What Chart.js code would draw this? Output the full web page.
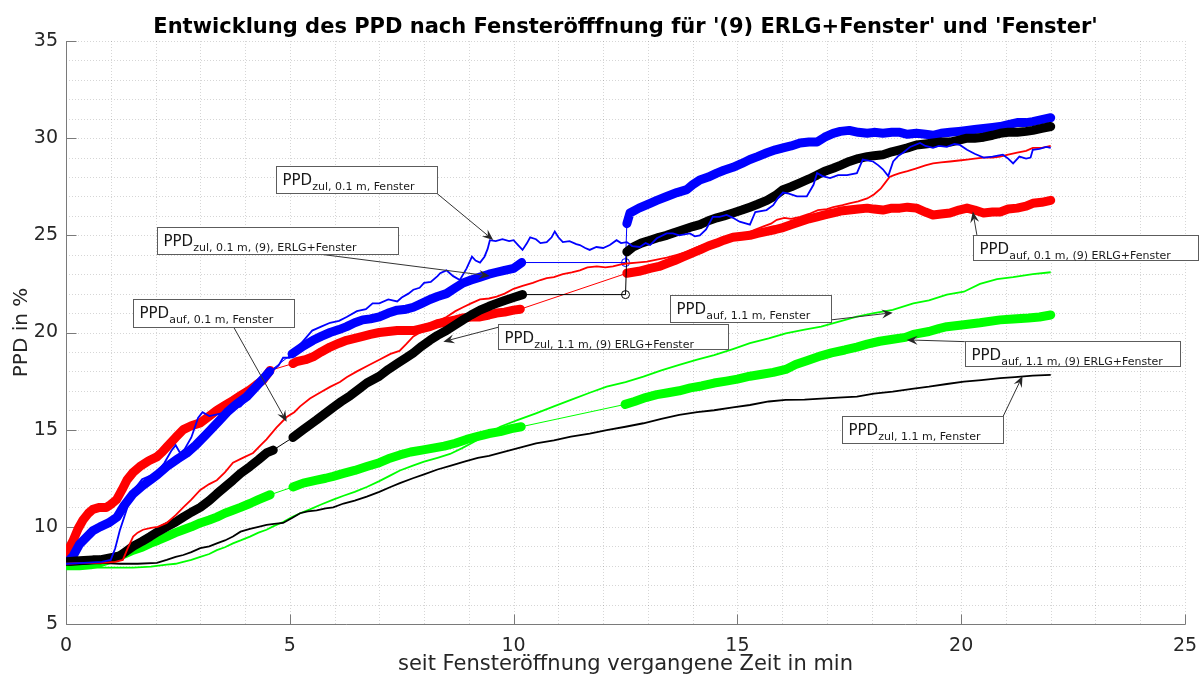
<!DOCTYPE html>
<html>
<head>
<meta charset="utf-8">
<title>PPD nach Fensteröffnung</title>
<script src="https://cdn.jsdelivr.net/npm/chart.js@4.4.1/dist/chart.umd.min.js"></script>
<style>
  html, body { margin: 0; padding: 0; background: #fff; }
  #wrap { width: 1201px; height: 675px; }
</style>
</head>
<body>
<div id="wrap"><canvas id="ppdChart" width="1201" height="675"></canvas></div>
<script>
const chartTitle = "Entwicklung des PPD nach Fensteröfffnung für '(9) ERLG+Fenster' und 'Fenster'"
const xLabel = 'seit Fensteröffnung vergangene Zeit in min'
const yLabel = 'PPD in %'
const xTickValues = [0, 5, 10, 15, 20, 25]
const yTickValues = [5, 10, 15, 20, 25, 30, 35]

// thin lines: window only ("Fenster"), [minutes, PPD %]
const zul01Fenster = [
    [0, 8.1], [0.4, 8.15], [0.8, 8.2], [1.0, 8.3], [1.1, 8.9], [1.2, 9.8], [1.3, 10.5], [1.4, 11.2], [1.55, 12.0],
    [1.7, 12.45], [1.85, 12.6], [2.0, 12.7], [2.2, 13.3], [2.35, 13.9], [2.45, 14.2], [2.55, 13.8], [2.65, 14.0],
    [2.8, 14.6], [2.95, 15.6], [3.05, 15.9], [3.2, 15.7], [3.4, 15.8], [3.6, 15.9], [3.75, 16.1], [3.9, 16.2],
    [4.05, 16.6], [4.2, 16.9], [4.33, 17.4], [4.45, 17.7], [4.6, 18.0], [4.75, 18.3], [4.85, 18.7], [5.0, 18.7],
    [5.2, 19.3], [5.35, 19.7], [5.5, 20.1], [5.7, 20.3], [5.9, 20.5], [6.1, 20.6], [6.27, 20.8], [6.5, 21.1],
    [6.7, 21.2], [6.85, 21.5], [7.0, 21.5], [7.2, 21.7], [7.4, 21.6], [7.5, 21.8], [7.65, 22.0], [7.76, 22.2],
    [7.9, 22.3], [8.0, 22.55], [8.15, 22.6], [8.3, 22.9], [8.36, 23.05], [8.5, 23.2], [8.65, 22.9], [8.8, 22.7],
    [8.95, 23.3], [9.07, 23.9], [9.15, 23.7], [9.25, 23.6], [9.35, 23.9], [9.42, 24.3], [9.47, 24.75], [9.6, 24.7],
    [9.75, 24.8], [9.9, 24.7], [10.0, 24.75], [10.1, 24.5], [10.2, 24.25], [10.3, 24.6], [10.37, 24.9], [10.5, 24.8],
    [10.6, 24.6], [10.74, 24.65], [10.85, 24.9], [10.92, 25.2], [11.0, 24.9], [11.1, 24.65], [11.25, 24.7],
    [11.4, 24.55], [11.48, 24.5], [11.6, 24.35], [11.7, 24.25], [11.85, 24.4], [12.0, 24.35], [12.15, 24.5],
    [12.3, 24.75], [12.4, 24.6], [12.53, 24.65], [12.65, 24.45], [12.82, 24.4], [12.95, 24.6], [13.05, 24.5],
    [13.2, 24.85], [13.42, 25.1], [13.56, 25.1], [13.7, 25.0], [13.94, 25.1], [14.05, 24.95], [14.16, 25.0],
    [14.3, 25.3], [14.45, 25.95], [14.6, 25.95], [14.76, 26.05], [14.9, 25.9], [15.05, 25.7], [15.28, 25.55],
    [15.4, 26.2], [15.65, 26.3], [15.8, 26.55], [15.9, 26.9], [16.02, 27.2], [16.15, 27.15], [16.33, 27.0],
    [16.55, 27.0], [16.7, 27.6], [16.78, 28.2], [16.9, 28.05], [17.07, 27.95], [17.25, 28.1], [17.45, 28.1],
    [17.67, 28.2], [17.8, 28.9], [18.03, 28.8], [18.15, 28.6], [18.25, 28.4], [18.37, 28.05], [18.48, 28.8],
    [18.6, 29.1], [18.7, 29.25], [18.86, 29.55], [19.08, 29.75], [19.2, 29.6], [19.37, 29.5], [19.5, 29.6],
    [19.68, 29.55], [19.85, 29.7], [19.97, 29.65], [20.13, 29.4], [20.3, 29.2], [20.5, 29.0], [20.7, 29.05],
    [20.93, 29.15], [21.05, 28.95], [21.16, 28.7], [21.3, 29.05], [21.45, 28.95], [21.55, 29.0], [21.6, 29.4],
    [21.75, 29.45], [21.9, 29.55], [22.0, 29.5]
]

const auf01Fenster = [
    [0, 8.1], [0.4, 8.15], [0.8, 8.15], [1.1, 8.2], [1.27, 8.3], [1.38, 8.9], [1.5, 9.5], [1.6, 9.7], [1.72, 9.85],
    [1.9, 9.95], [2.05, 10.0], [2.25, 10.2], [2.45, 10.6], [2.62, 11.0], [2.8, 11.4], [3.0, 11.9], [3.2, 12.2],
    [3.37, 12.4], [3.55, 12.8], [3.73, 13.3], [3.95, 13.55], [4.18, 13.8], [4.35, 14.2], [4.48, 14.5], [4.7, 15.1],
    [4.93, 15.65], [5.1, 15.9], [5.23, 16.2], [5.45, 16.6], [5.67, 16.9], [5.9, 17.2], [6.12, 17.45], [6.27, 17.7],
    [6.5, 18.0], [6.75, 18.3], [7.0, 18.6], [7.25, 18.9], [7.45, 19.05], [7.6, 19.4], [7.76, 19.8], [7.95, 20.05],
    [8.13, 20.3], [8.36, 20.65], [8.5, 20.8], [8.7, 21.1], [8.87, 21.3], [9.05, 21.5], [9.25, 21.7], [9.45, 21.75],
    [9.62, 21.85], [9.8, 22.0], [10.0, 22.25], [10.2, 22.4], [10.43, 22.55], [10.6, 22.7], [10.74, 22.8],
    [10.9, 22.85], [11.1, 23.0], [11.3, 23.1], [11.48, 23.2], [11.65, 23.35], [11.86, 23.4], [12.05, 23.35],
    [12.22, 23.4], [12.4, 23.5], [12.53, 23.55], [12.75, 23.6], [12.98, 23.65], [13.2, 23.75], [13.42, 23.85],
    [13.65, 24.0], [13.87, 24.15], [14.1, 24.4], [14.3, 24.55], [14.45, 24.65], [14.65, 24.8], [14.83, 24.9],
    [15.0, 25.0], [15.2, 25.1], [15.4, 25.3], [15.57, 25.45], [15.75, 25.6], [15.88, 25.8], [16.05, 25.9],
    [16.2, 25.85], [16.4, 25.95], [16.6, 26.1], [16.8, 26.3], [17.0, 26.35], [17.14, 26.45], [17.35, 26.55],
    [17.5, 26.65], [17.7, 26.75], [17.9, 26.9], [18.05, 27.1], [18.2, 27.4], [18.3, 27.7], [18.4, 28.0],
    [18.5, 28.1], [18.63, 28.2], [18.8, 28.3], [19.0, 28.45], [19.2, 28.6], [19.37, 28.7], [19.55, 28.75],
    [19.75, 28.8], [19.95, 28.85], [20.13, 28.9], [20.3, 28.95], [20.5, 29.0], [20.7, 29.0], [20.87, 29.05],
    [21.05, 29.15], [21.25, 29.25], [21.45, 29.35], [21.6, 29.5], [21.8, 29.5], [22.0, 29.6]
]

const zul11Fenster = [
    [0, 8.1], [0.4, 8.1], [0.76, 8.15], [1.2, 8.1], [1.6, 8.1], [2.03, 8.15], [2.25, 8.3], [2.45, 8.45],
    [2.62, 8.55], [2.8, 8.7], [3.0, 8.9], [3.2, 9.0], [3.37, 9.15], [3.55, 9.3], [3.73, 9.5], [3.9, 9.75],
    [4.11, 9.9], [4.3, 10.0], [4.48, 10.1], [4.65, 10.15], [4.85, 10.2], [5.05, 10.45], [5.23, 10.7], [5.4, 10.8],
    [5.6, 10.85], [5.8, 10.95], [5.97, 11.0], [6.2, 11.2], [6.45, 11.35], [6.72, 11.55], [7.0, 11.8],
    [7.25, 12.05], [7.46, 12.25], [7.75, 12.5], [8.0, 12.7], [8.3, 12.95], [8.6, 13.15], [8.9, 13.35],
    [9.2, 13.55], [9.45, 13.65], [9.7, 13.8], [10.1, 14.05], [10.5, 14.3], [10.9, 14.45], [11.28, 14.64],
    [11.7, 14.8], [12.08, 14.98], [12.5, 15.15], [12.9, 15.33], [13.3, 15.55], [13.7, 15.76], [14.1, 15.9],
    [14.48, 16.0], [14.9, 16.15], [15.28, 16.27], [15.7, 16.45], [16.08, 16.53], [16.5, 16.55], [16.87, 16.6],
    [17.25, 16.65], [17.67, 16.7], [18.05, 16.85], [18.47, 16.96], [18.9, 17.1], [19.28, 17.21], [19.68, 17.35],
    [20.06, 17.47], [20.45, 17.55], [20.87, 17.65], [21.2, 17.7], [21.6, 17.78], [22.0, 17.82]
]

const auf11Fenster = [
    [0, 7.95], [0.5, 7.9], [1.0, 7.9], [1.5, 7.9], [1.9, 7.95], [2.25, 8.05], [2.45, 8.1], [2.62, 8.2], [2.8, 8.3],
    [3.0, 8.45], [3.2, 8.6], [3.37, 8.8], [3.55, 8.95], [3.73, 9.15], [3.9, 9.3], [4.11, 9.5], [4.3, 9.7],
    [4.48, 9.85], [4.65, 10.05], [4.85, 10.25], [5.05, 10.5], [5.23, 10.7], [5.45, 10.9], [5.7, 11.15],
    [5.97, 11.4], [6.2, 11.6], [6.45, 11.8], [6.72, 12.05], [7.0, 12.35], [7.25, 12.65], [7.46, 12.9],
    [7.75, 13.15], [8.0, 13.35], [8.3, 13.55], [8.58, 13.75], [8.85, 14.05], [9.1, 14.35], [9.4, 14.75],
    [9.7, 15.15], [10.1, 15.5], [10.5, 15.84], [10.9, 16.2], [11.28, 16.53], [11.7, 16.9], [12.08, 17.21],
    [12.5, 17.45], [12.9, 17.73], [13.3, 18.05], [13.7, 18.33], [14.1, 18.6], [14.48, 18.84], [14.9, 19.15],
    [15.28, 19.45], [15.7, 19.7], [16.08, 19.96], [16.5, 20.15], [16.87, 20.3], [17.25, 20.55], [17.67, 20.82],
    [18.05, 21.0], [18.47, 21.16], [18.93, 21.5], [19.28, 21.65], [19.68, 21.95], [20.06, 22.1], [20.42, 22.5],
    [20.8, 22.75], [21.16, 22.85], [21.6, 23.0], [22.0, 23.1]
]

// thick lines: ERLG + window, recorded in runs; a one-point run is a lone sample
const zul01Erlg = [
    [[0, 8.2], [0.08, 8.3], [0.16, 8.5], [0.3, 9.1], [0.47, 9.5], [0.6, 9.8], [0.76, 10.0], [0.95, 10.2],
     [1.14, 10.5], [1.3, 11.1], [1.5, 11.7], [1.7, 12.1], [1.88, 12.4], [2.05, 12.7], [2.25, 13.1], [2.5, 13.5],
     [2.7, 13.8], [2.9, 14.2], [3.15, 14.8], [3.4, 15.4], [3.6, 15.9], [3.8, 16.3], [4.04, 16.7], [4.2, 17.1],
     [4.4, 17.6], [4.55, 18.0]],
    [[5.05, 18.9], [5.3, 19.3], [5.52, 19.6], [5.7, 19.8], [5.9, 20.0], [6.1, 20.15], [6.27, 20.3], [6.45, 20.5],
     [6.63, 20.65], [6.8, 20.7], [7.0, 20.8], [7.2, 21.0], [7.4, 21.15], [7.6, 21.2], [7.76, 21.3], [7.95, 21.5],
     [8.13, 21.7], [8.3, 21.85], [8.5, 22.0], [8.7, 22.3], [8.87, 22.55], [9.05, 22.7], [9.25, 22.85], [9.45, 23.0],
     [9.62, 23.1], [9.8, 23.2], [10.0, 23.3], [10.18, 23.6]],
    [[12.5, 23.6]],
    [[12.53, 25.6], [12.6, 26.15], [12.8, 26.4], [13.05, 26.65], [13.2, 26.8], [13.42, 27.0], [13.65, 27.2],
     [13.87, 27.35], [14.0, 27.6], [14.16, 27.85], [14.35, 28.0], [14.54, 28.2], [14.7, 28.35], [14.9, 28.5],
     [15.1, 28.7], [15.28, 28.9], [15.45, 29.05], [15.66, 29.25], [15.85, 29.4], [16.02, 29.5], [16.2, 29.6],
     [16.4, 29.75], [16.6, 29.8], [16.78, 29.8], [16.95, 30.05], [17.14, 30.25], [17.3, 30.35], [17.5, 30.4],
     [17.7, 30.3], [17.9, 30.25], [18.05, 30.3], [18.25, 30.25], [18.45, 30.3], [18.63, 30.3], [18.8, 30.2],
     [19.0, 30.25], [19.2, 30.2], [19.37, 30.15], [19.55, 30.25], [19.75, 30.3], [19.95, 30.35], [20.13, 30.4],
     [20.3, 30.45], [20.5, 30.5], [20.7, 30.55], [20.87, 30.6], [21.05, 30.7], [21.25, 30.8], [21.45, 30.8],
     [21.6, 30.85], [21.8, 30.95], [22.0, 31.05]]
]

const auf01Erlg = [
    [[0, 8.3], [0.05, 8.8], [0.16, 9.3], [0.27, 9.9], [0.38, 10.35], [0.5, 10.7], [0.6, 10.9], [0.75, 11.0],
     [0.9, 11.0], [1.0, 11.15], [1.13, 11.4], [1.25, 11.9], [1.36, 12.4], [1.5, 12.8], [1.65, 13.1], [1.85, 13.4],
     [2.03, 13.6], [2.15, 13.85], [2.25, 14.1], [2.45, 14.6], [2.62, 15.0], [2.8, 15.2], [3.0, 15.35], [3.2, 15.7],
     [3.37, 16.0], [3.55, 16.25], [3.73, 16.5], [3.9, 16.75], [4.11, 17.05], [4.25, 17.3], [4.4, 17.55],
     [4.56, 18.05]],
    [[5.07, 18.4], [5.15, 18.5], [5.35, 18.6], [5.52, 18.75], [5.7, 19.0], [5.9, 19.25], [6.1, 19.45],
     [6.27, 19.6], [6.45, 19.7], [6.63, 19.8], [6.8, 19.9], [7.0, 20.0], [7.2, 20.05], [7.4, 20.1], [7.6, 20.1],
     [7.76, 20.1], [7.95, 20.2], [8.13, 20.3], [8.3, 20.45], [8.5, 20.55], [8.7, 20.65], [8.87, 20.75],
     [9.05, 20.8], [9.25, 20.8], [9.45, 20.9], [9.62, 21.0], [9.8, 21.05], [10.0, 21.15], [10.15, 21.2]],
    [[12.53, 23.05], [12.8, 23.15], [13.05, 23.3], [13.25, 23.4], [13.42, 23.55], [13.6, 23.7], [13.8, 23.9],
     [14.0, 24.1], [14.16, 24.25], [14.35, 24.45], [14.54, 24.6], [14.7, 24.75], [14.9, 24.9], [15.1, 24.95],
     [15.28, 25.0], [15.45, 25.1], [15.66, 25.2], [15.85, 25.3], [16.02, 25.4], [16.2, 25.55], [16.4, 25.7],
     [16.6, 25.85], [16.78, 25.95], [16.95, 26.05], [17.14, 26.15], [17.3, 26.25], [17.5, 26.3], [17.7, 26.35],
     [17.9, 26.4], [18.05, 26.35], [18.25, 26.3], [18.45, 26.4], [18.63, 26.4], [18.8, 26.45], [19.0, 26.4],
     [19.2, 26.2], [19.37, 26.05], [19.55, 26.1], [19.75, 26.15], [19.95, 26.3], [20.13, 26.4], [20.3, 26.3],
     [20.5, 26.15], [20.7, 26.2], [20.87, 26.2], [21.05, 26.35], [21.25, 26.4], [21.45, 26.5], [21.6, 26.65],
     [21.8, 26.7], [22.0, 26.8]]
]

const zul11Erlg = [
    [[0, 8.2], [0.3, 8.25], [0.6, 8.3], [0.76, 8.3], [0.98, 8.4], [1.2, 8.5], [1.35, 8.75], [1.5, 9.0],
     [1.7, 9.25], [1.88, 9.5], [2.05, 9.75], [2.25, 10.0], [2.45, 10.25], [2.62, 10.5], [2.8, 10.75], [3.0, 11.0],
     [3.2, 11.35], [3.37, 11.7], [3.55, 12.05], [3.73, 12.4], [3.9, 12.75], [4.11, 13.1], [4.3, 13.45],
     [4.48, 13.8], [4.63, 13.95]],
    [[5.07, 14.6], [5.3, 15.0], [5.6, 15.5], [5.8, 15.85], [5.97, 16.15], [6.15, 16.45], [6.35, 16.75],
     [6.55, 17.1], [6.72, 17.4], [7.0, 17.75], [7.2, 18.1], [7.4, 18.4], [7.6, 18.7], [7.76, 18.95], [7.95, 19.3],
     [8.13, 19.6], [8.3, 19.85], [8.5, 20.1], [8.7, 20.4], [8.87, 20.65], [9.05, 20.9], [9.25, 21.15],
     [9.45, 21.35], [9.62, 21.5], [9.8, 21.65], [10.0, 21.8], [10.2, 21.95]],
    [[12.5, 21.95]],
    [[12.53, 24.15], [12.67, 24.4], [12.85, 24.6], [13.05, 24.75], [13.25, 24.9], [13.42, 25.0], [13.6, 25.15],
     [13.8, 25.3], [14.0, 25.45], [14.16, 25.55], [14.35, 25.75], [14.54, 25.9], [14.7, 26.0], [14.9, 26.15],
     [15.1, 26.3], [15.28, 26.45], [15.45, 26.6], [15.66, 26.8], [15.85, 27.05], [16.02, 27.35], [16.2, 27.5],
     [16.4, 27.7], [16.6, 27.9], [16.78, 28.1], [16.95, 28.3], [17.14, 28.45], [17.3, 28.6], [17.5, 28.8],
     [17.7, 28.95], [17.9, 29.05], [18.05, 29.1], [18.25, 29.15], [18.45, 29.3], [18.63, 29.4], [18.8, 29.5],
     [19.0, 29.65], [19.2, 29.7], [19.37, 29.75], [19.55, 29.8], [19.75, 29.8], [19.95, 29.9], [20.13, 30.0],
     [20.3, 30.0], [20.5, 30.05], [20.7, 30.15], [20.87, 30.25], [21.05, 30.3], [21.25, 30.3], [21.45, 30.35],
     [21.6, 30.4], [21.8, 30.5], [22.0, 30.6]]
]

const auf11Erlg = [
    [[0, 8.0], [0.3, 8.0], [0.55, 8.05], [0.76, 8.15], [0.95, 8.3], [1.13, 8.45], [1.3, 8.6], [1.5, 8.8],
     [1.7, 8.95], [1.88, 9.15], [2.05, 9.3], [2.25, 9.5], [2.45, 9.7], [2.62, 9.85], [2.8, 10.0], [3.0, 10.2],
     [3.2, 10.35], [3.37, 10.5], [3.55, 10.7], [3.73, 10.85], [3.9, 11.0], [4.11, 11.2], [4.3, 11.4],
     [4.56, 11.65]],
    [[5.07, 12.05], [5.3, 12.25], [5.6, 12.4], [5.8, 12.5], [5.97, 12.6], [6.2, 12.75], [6.45, 12.9],
     [6.72, 13.1], [7.0, 13.3], [7.2, 13.5], [7.46, 13.7], [7.7, 13.85], [7.95, 13.95], [8.2, 14.05],
     [8.45, 14.15], [8.7, 14.3], [8.95, 14.5], [9.2, 14.65], [9.45, 14.8], [9.7, 14.9], [9.95, 15.05],
     [10.17, 15.15]],
    [[12.49, 16.3], [12.7, 16.45], [12.95, 16.65], [13.2, 16.8], [13.45, 16.9], [13.7, 17.0], [13.95, 17.15],
     [14.2, 17.25], [14.48, 17.4], [14.75, 17.5], [15.0, 17.6], [15.28, 17.75], [15.55, 17.85], [15.8, 17.95],
     [16.08, 18.1], [16.3, 18.35], [16.55, 18.55], [16.87, 18.8], [17.1, 18.95], [17.4, 19.1], [17.67, 19.25],
     [17.9, 19.4], [18.18, 19.55], [18.47, 19.65], [18.75, 19.75], [18.93, 19.9], [19.28, 20.05], [19.5, 20.2],
     [19.68, 20.3], [20.06, 20.4], [20.42, 20.5], [20.87, 20.65], [21.16, 20.7], [21.5, 20.75], [21.75, 20.8],
     [22.0, 20.9]]
]

// text boxes with arrows, in axis units: box = [left, top, right, bottom]
const notes = [
    { sub: 'zul, 0.1 m, Fenster', box: [4.69, 28.57, 8.28, 27.17], from: [8.28, 27.17], to: [9.545, 24.76] },
    { sub: 'zul, 0.1 m, (9), ERLG+Fenster', box: [2.026, 25.445, 7.41, 24.04], from: [5.64, 24.04], to: [9.47, 22.91] },
    { sub: 'auf, 0.1 m, Fenster', box: [1.49, 21.71, 5.093, 20.3], from: [3.74, 20.3], to: [4.93, 15.41] },
    { sub: 'zul, 1.1 m, (9) ERLG+Fenster', box: [9.657, 20.44, 14.795, 19.14], from: [9.657, 20.27], to: [8.43, 19.53] },
    { sub: 'auf, 1.1 m, Fenster', box: [13.49, 21.93, 17.1, 20.53], from: [17.1, 20.65], to: [18.47, 21.02] },
    { sub: 'auf, 0.1 m, (9) ERLG+Fenster', box: [20.27, 25.02, 25.29, 23.73], from: [20.35, 25.02], to: [20.26, 26.22] },
    { sub: 'auf, 1.1 m, (9) ERLG+Fenster', box: [20.08, 19.56, 24.89, 18.29], from: [20.08, 19.53], to: [18.78, 19.62] },
    { sub: 'zul, 1.1 m, Fenster', box: [17.34, 15.7, 20.94, 14.33], from: [20.94, 15.7], to: [21.37, 17.76] }
]

const FONT = '"DejaVu Sans", "Noto Sans", sans-serif'
const THICK = 9

function thinDataset(label, color, pairs) {
    return {
        label: label,
        data: pairs.map(p => ({ x: p[0], y: p[1] })),
        borderColor: color,
        borderWidth: 1.8,
        pointRadius: 0,
        fill: false,
        tension: 0
    }
}

// consecutive samples of one run are drawn as a wide band, the jumps between runs as a hairline
function thickDataset(label, color, runs) {
    const data = []
    const runOf = []
    runs.forEach((run, i) => run.forEach(p => {
        data.push({ x: p[0], y: p[1] })
        runOf.push(i)
    }))
    return {
        label: label,
        data: data,
        borderColor: color,
        borderWidth: THICK,
        borderCapStyle: 'round',
        borderJoinStyle: 'round',
        pointRadius: ctx => runs[runOf[ctx.dataIndex]].length === 1 ? 4 : 0,
        pointBorderColor: color,
        pointBackgroundColor: 'rgba(255,255,255,0)',
        pointBorderWidth: 1,
        fill: false,
        tension: 0,
        segment: {
            borderWidth: ctx => runOf[ctx.p0DataIndex] === runOf[ctx.p1DataIndex] ? THICK : 1
        }
    }
}

function drawArrow(ctx, x0, y0, x1, y1) {
    const ang = Math.atan2(y1 - y0, x1 - x0)
    ctx.beginPath()
    ctx.moveTo(x0, y0)
    ctx.lineTo(x1 - 7 * Math.cos(ang), y1 - 7 * Math.sin(ang))
    ctx.stroke()
    ctx.save()
    ctx.translate(x1, y1)
    ctx.rotate(ang)
    ctx.beginPath()
    ctx.moveTo(0, 0)
    ctx.lineTo(-11, -4.5)
    ctx.lineTo(-7, 0)
    ctx.lineTo(-11, 4.5)
    ctx.closePath()
    ctx.fill()
    ctx.restore()
}

// background, dotted grid, axis lines and inward tick marks
const axesDecor = {
    id: 'axesDecor',
    beforeDraw(chart) {
        const ctx = chart.ctx
        ctx.save()
        ctx.fillStyle = '#ffffff'
        ctx.fillRect(0, 0, chart.width, chart.height)
        ctx.restore()
    },
    beforeDatasetsDraw(chart) {
        const { ctx, chartArea: a, scales: { x, y } } = chart
        ctx.save()
        ctx.lineWidth = 1
        ctx.strokeStyle = 'rgba(0,0,0,0.16)'
        ctx.setLineDash([1, 2])
        for (let v = x.min; v <= x.max; v++) {
            const px = Math.round(x.getPixelForValue(v)) + 0.5
            ctx.beginPath(); ctx.moveTo(px, a.top); ctx.lineTo(px, a.bottom); ctx.stroke()
        }
        for (let v = y.min; v <= y.max; v++) {
            const py = Math.round(y.getPixelForValue(v)) + 0.5
            ctx.beginPath(); ctx.moveTo(a.left, py); ctx.lineTo(a.right, py); ctx.stroke()
        }
        ctx.setLineDash([])
        ctx.strokeStyle = '#7a7a7a'
        const left = Math.round(a.left) + 0.5
        const bottom = Math.round(a.bottom) + 0.5
        ctx.beginPath()
        ctx.moveTo(left, a.top)
        ctx.lineTo(left, bottom)
        ctx.lineTo(a.right + 0.5, bottom)
        ctx.stroke()
        xTickValues.forEach(v => {
            const px = Math.round(x.getPixelForValue(v)) + 0.5
            ctx.beginPath(); ctx.moveTo(px, bottom); ctx.lineTo(px, bottom - 10); ctx.stroke()
        })
        yTickValues.forEach(v => {
            const py = Math.round(y.getPixelForValue(v)) + 0.5
            ctx.beginPath(); ctx.moveTo(left, py); ctx.lineTo(left + 10, py); ctx.stroke()
        })
        ctx.restore()
    },
    afterDraw(chart) {
        const { ctx, chartArea: a, scales: { x, y } } = chart
        ctx.save()
        // title, centred over the plot area
        ctx.fillStyle = '#000000'
        ctx.font = 'bold 21px ' + FONT
        ctx.textAlign = 'center'
        ctx.textBaseline = 'alphabetic'
        ctx.fillText(chartTitle, (a.left + a.right) / 2, 33)

        ctx.textAlign = 'left'
        notes.forEach(n => {
            const bx0 = Math.round(x.getPixelForValue(n.box[0])) + 0.5
            const by0 = Math.round(y.getPixelForValue(n.box[1])) + 0.5
            const bx1 = Math.round(x.getPixelForValue(n.box[2])) + 0.5
            const by1 = Math.round(y.getPixelForValue(n.box[3])) + 0.5
            ctx.strokeStyle = '#333333'
            ctx.fillStyle = '#262626'
            ctx.lineWidth = 1
            drawArrow(ctx, x.getPixelForValue(n.from[0]), y.getPixelForValue(n.from[1]),
                x.getPixelForValue(n.to[0]), y.getPixelForValue(n.to[1]))
            ctx.fillStyle = '#ffffff'
            ctx.fillRect(bx0, by0, bx1 - bx0, by1 - by0)
            ctx.strokeStyle = '#5c5c5c'
            ctx.strokeRect(bx0, by0, bx1 - bx0, by1 - by0)
            ctx.fillStyle = '#1a1a1a'
            ctx.font = '15px ' + FONT
            ctx.fillText('PPD', bx0 + 6, by0 + 18)
            const w = ctx.measureText('PPD').width
            ctx.font = '11px ' + FONT
            ctx.fillText(n.sub, bx0 + 6 + w, by0 + 23.5)
        })
        ctx.restore()
    }
}

const ctx = document.getElementById('ppdChart')
new Chart(ctx, {
    type: 'line',
    data: {
        datasets: [
            thinDataset('PPD zul, 0.1 m, Fenster', '#0000ff', zul01Fenster),
            thinDataset('PPD auf, 0.1 m, Fenster', '#ff0000', auf01Fenster),
            thinDataset('PPD zul, 1.1 m, Fenster', '#000000', zul11Fenster),
            thinDataset('PPD auf, 1.1 m, Fenster', '#00ff00', auf11Fenster),
            thickDataset('PPD zul, 1.1 m, (9) ERLG+Fenster', '#000000', zul11Erlg),
            thickDataset('PPD zul, 0.1 m, (9) ERLG+Fenster', '#0000ff', zul01Erlg),
            thickDataset('PPD auf, 0.1 m, (9) ERLG+Fenster', '#ff0000', auf01Erlg),
            thickDataset('PPD auf, 1.1 m, (9) ERLG+Fenster', '#00ff00', auf11Erlg)
        ]
    },
    options: {
        responsive: false,
        animation: false,
        devicePixelRatio: 1,
        layout: { padding: { left: 0, right: 16, top: 41, bottom: 0 } },
        plugins: {
            legend: { display: false },
            tooltip: { enabled: false },
            title: { display: false }
        },
        scales: {
            x: {
                type: 'linear',
                min: 0,
                max: 25,
                afterBuildTicks: scale => { scale.ticks = xTickValues.map(v => ({ value: v })) },
                afterFit: scale => {
                    scale.height = 51
                    scale.paddingLeft = 0
                    scale.paddingRight = 0
                },
                grid: { display: false, drawTicks: false },
                border: { display: false },
                ticks: {
                    autoSkip: false,
                    maxRotation: 0,
                    padding: 11,
                    color: '#262626',
                    font: { family: FONT, size: 19 }
                },
                title: {
                    display: true,
                    text: xLabel,
                    color: '#262626',
                    font: { family: FONT, size: 21 },
                    padding: { top: 0, bottom: -2 }
                }
            },
            y: {
                type: 'linear',
                min: 5,
                max: 35,
                afterBuildTicks: scale => { scale.ticks = yTickValues.map(v => ({ value: v })) },
                afterFit: scale => { scale.width = 66 },
                grid: { display: false, drawTicks: false },
                border: { display: false },
                ticks: {
                    padding: 8,
                    color: '#262626',
                    font: { family: FONT, size: 19 }
                },
                title: {
                    display: true,
                    text: yLabel,
                    color: '#262626',
                    font: { family: FONT, size: 20 },
                    padding: { top: 10, bottom: 0 }
                }
            }
        }
    },
    plugins: [axesDecor]
})
</script>
</body>
</html>
